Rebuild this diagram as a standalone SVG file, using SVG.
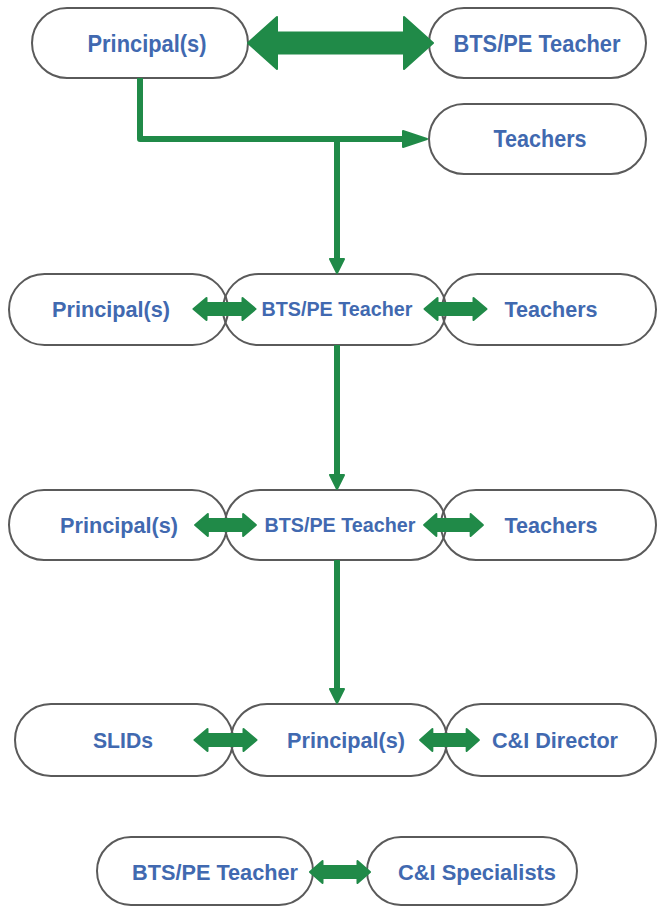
<svg xmlns="http://www.w3.org/2000/svg" width="658" height="907" viewBox="0 0 658 907">
<style>
.pill{fill:none;stroke:#5a5a5a;stroke-width:2}
.t{font-family:"Liberation Sans",Arial,sans-serif;font-weight:bold;fill:#4169b0;text-anchor:middle}
.t1{font-size:24px}
.t2{font-size:22px}
.t3{font-size:20px}
.ln{fill:none;stroke:#208a48;stroke-width:6;stroke-linejoin:round}
.ar{fill:#208a48;stroke:#208a48;stroke-width:2;stroke-linejoin:round}
</style>
<defs>
<path id="dbl" d="M-31,0 L-18,-11 L-18,-6 L18,-6 L18,-11 L31,0 L18,11 L18,6 L-18,6 L-18,11 Z"/>
<path id="dn" d="M-7,-14 L7,-14 L0,0 Z"/>
</defs>
<g id="n1"><rect class="pill" x="32" y="8" width="216" height="70" rx="35"/><text class="t t1" x="147" y="52" textLength="119" lengthAdjust="spacingAndGlyphs">Principal(s)</text></g>
<g id="n2"><rect class="pill" x="429" y="8" width="217" height="70" rx="35"/><text class="t t1" x="537" y="52" textLength="167" lengthAdjust="spacingAndGlyphs">BTS/PE Teacher</text></g>
<g id="n3"><rect class="pill" x="429" y="104" width="217" height="70" rx="35"/><text class="t t1" x="540" y="147" textLength="93" lengthAdjust="spacingAndGlyphs">Teachers</text></g>

<g id="n4"><rect class="pill" x="9" y="274" width="219" height="71" rx="35.5"/><text class="t t2" x="111" y="317" textLength="118" lengthAdjust="spacingAndGlyphs">Principal(s)</text></g>
<g id="n5"><rect class="pill" x="223" y="274" width="223" height="71" rx="35.5"/><text class="t t3" x="337" y="316" textLength="151" lengthAdjust="spacingAndGlyphs">BTS/PE Teacher</text></g>
<g id="n6"><rect class="pill" x="442" y="274" width="214" height="71" rx="35.5"/><text class="t t2" x="551" y="317" textLength="93" lengthAdjust="spacingAndGlyphs">Teachers</text></g>

<g id="n7"><rect class="pill" x="9" y="490" width="218" height="70" rx="35"/><text class="t t2" x="119" y="533" textLength="118" lengthAdjust="spacingAndGlyphs">Principal(s)</text></g>
<g id="n8"><rect class="pill" x="225" y="490" width="221" height="70" rx="35"/><text class="t t3" x="340" y="532" textLength="151" lengthAdjust="spacingAndGlyphs">BTS/PE Teacher</text></g>
<g id="n9"><rect class="pill" x="441" y="490" width="215" height="70" rx="35"/><text class="t t2" x="551" y="533" textLength="93" lengthAdjust="spacingAndGlyphs">Teachers</text></g>

<g id="n10"><rect class="pill" x="15" y="704" width="218" height="72" rx="36"/><text class="t t2" x="123" y="748" textLength="60" lengthAdjust="spacingAndGlyphs">SLIDs</text></g>
<g id="n11"><rect class="pill" x="231" y="704" width="216" height="72" rx="36"/><text class="t t2" x="346" y="748" textLength="118" lengthAdjust="spacingAndGlyphs">Principal(s)</text></g>
<g id="n12"><rect class="pill" x="445" y="704" width="211" height="72" rx="36"/><text class="t t2" x="555" y="748" textLength="126" lengthAdjust="spacingAndGlyphs">C&amp;I Director</text></g>

<g id="n13"><rect class="pill" x="97" y="837" width="216" height="68" rx="34"/><text class="t t2" x="215" y="880" textLength="166" lengthAdjust="spacingAndGlyphs">BTS/PE Teacher</text></g>
<g id="n14"><rect class="pill" x="367" y="837" width="210" height="68" rx="34"/><text class="t t2" x="477" y="880" textLength="158" lengthAdjust="spacingAndGlyphs">C&amp;I Specialists</text></g>

<g id="connectors">
<path class="ar" d="M248,43 L277,17 L277,32.5 L404,32.5 L404,17 L433,43 L404,69 L404,53.5 L277,53.5 L277,69 Z"/>
<path class="ln" d="M140,78 L140,139 L412,139"/>
<path class="ar" d="M403,131 L427,139 L403,147 Z"/>
<path class="ln" d="M337,139 L337,262"/>
<use href="#dn" class="ar" x="337" y="273"/>
<path class="ln" d="M337,345 L337,478"/>
<use href="#dn" class="ar" x="337" y="489"/>
<path class="ln" d="M337,560 L337,692"/>
<use href="#dn" class="ar" x="337" y="703"/>
<use href="#dbl" class="ar" transform="translate(224.5,309)"/>
<use href="#dbl" class="ar" transform="translate(455.5,309)"/>
<use href="#dbl" class="ar" transform="translate(225.5,525) scale(0.98,1)"/>
<use href="#dbl" class="ar" transform="translate(453.5,525) scale(0.95,1)"/>
<use href="#dbl" class="ar" transform="translate(225.5,740)"/>
<use href="#dbl" class="ar" transform="translate(449.5,740) scale(0.95,1)"/>
<use href="#dbl" class="ar" transform="translate(340,872) scale(0.97,1)"/>
</g>
</svg>
